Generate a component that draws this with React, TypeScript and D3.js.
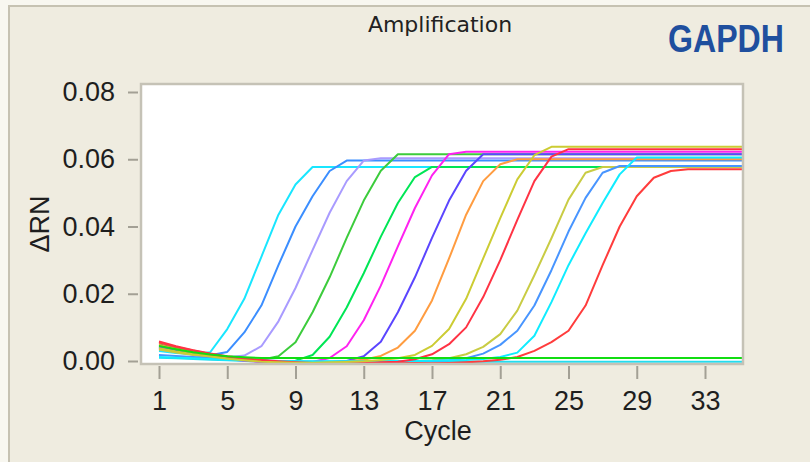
import { useEffect, useRef } from "react";
import * as d3 from "d3";

// cycles 1..36 (the plot clips a bit after 35)
const cycles = [1, 2, 3, 4, 5, 6, 7, 8, 9, 10, 11, 12, 13, 14, 15, 16, 17, 18, 19, 20, 21, 22, 23, 24, 25, 26, 27, 28, 29, 30, 31, 32, 33, 34, 35, 36];
const xTicks = [1, 5, 9, 13, 17, 21, 25, 29, 33];
const yTicks = [0, 0.02, 0.04, 0.06, 0.08];

// delta RN per cycle
const cyan1 = [0.003, 0.0024, 0.002, 0.0026, 0.0095, 0.0185, 0.031, 0.0435, 0.0525, 0.0577, 0.0577, 0.0577, 0.0577, 0.0577, 0.0577, 0.0577, 0.0577, 0.0577, 0.0577, 0.0577, 0.0577, 0.0577, 0.0577, 0.0577, 0.0577, 0.0577, 0.0577, 0.0577, 0.0577, 0.0577, 0.0577, 0.0577, 0.0577, 0.0577, 0.0577, 0.0577];
const blue1 = [0.004, 0.0031, 0.0023, 0.0017, 0.0027, 0.0085, 0.0165, 0.0285, 0.04, 0.049, 0.0565, 0.0596, 0.0596, 0.0596, 0.0596, 0.0596, 0.0596, 0.0596, 0.0596, 0.0596, 0.0596, 0.0596, 0.0596, 0.0596, 0.0596, 0.0596, 0.0596, 0.0596, 0.0596, 0.0596, 0.0596, 0.0596, 0.0596, 0.0596, 0.0596, 0.0596];
const lavender = [0.0045, 0.0034, 0.0025, 0.0018, 0.0011, 0.0016, 0.0044, 0.0118, 0.0217, 0.033, 0.0441, 0.0535, 0.0596, 0.0603, 0.0603, 0.0603, 0.0603, 0.0603, 0.0603, 0.0603, 0.0603, 0.0603, 0.0603, 0.0603, 0.0603, 0.0603, 0.0603, 0.0603, 0.0603, 0.0603, 0.0603, 0.0603, 0.0603, 0.0603, 0.0603, 0.0603];
const green1 = [0.005, 0.0038, 0.0027, 0.0018, 0.0011, 0.0005, 0.0004, 0.0014, 0.0056, 0.0145, 0.0249, 0.0366, 0.0477, 0.0566, 0.0615, 0.0615, 0.0615, 0.0615, 0.0615, 0.0615, 0.0615, 0.0615, 0.0615, 0.0615, 0.0615, 0.0615, 0.0615, 0.0615, 0.0615, 0.0615, 0.0615, 0.0615, 0.0615, 0.0615, 0.0615, 0.0615];
const green2 = [0.0042, 0.0031, 0.0022, 0.0014, 0.0008, 0.0003, 0.0, -0.0003, 0.0001, 0.0018, 0.0072, 0.0159, 0.0261, 0.037, 0.047, 0.0547, 0.0577, 0.0577, 0.0577, 0.0577, 0.0577, 0.0577, 0.0577, 0.0577, 0.0577, 0.0577, 0.0577, 0.0577, 0.0577, 0.0577, 0.0577, 0.0577, 0.0577, 0.0577, 0.0577, 0.0577];
const magenta = [0.0036, 0.0027, 0.0019, 0.0012, 0.0006, 0.0001, -0.0003, -0.0005, -0.0005, -0.0003, 0.0009, 0.0044, 0.0121, 0.0224, 0.0341, 0.0455, 0.0552, 0.0615, 0.0622, 0.0622, 0.0622, 0.0622, 0.0622, 0.0622, 0.0622, 0.0622, 0.0622, 0.0622, 0.0622, 0.0622, 0.0622, 0.0622, 0.0622, 0.0622, 0.0622, 0.0622];
const purple = [0.004, 0.003, 0.0021, 0.0013, 0.0007, 0.0002, -0.0002, -0.0004, -0.0005, -0.0005, -0.0004, 0.0, 0.0014, 0.0057, 0.0145, 0.0249, 0.0366, 0.0477, 0.0566, 0.0615, 0.0615, 0.0615, 0.0615, 0.0615, 0.0615, 0.0615, 0.0615, 0.0615, 0.0615, 0.0615, 0.0615, 0.0615, 0.0615, 0.0615, 0.0615, 0.0615];
const orange = [0.0048, 0.0036, 0.0026, 0.0017, 0.001, 0.0005, 0.0001, -0.0002, -0.0004, -0.0004, -0.0003, -0.0001, 0.0004, 0.0015, 0.004, 0.009, 0.018, 0.0305, 0.0435, 0.0535, 0.0585, 0.06, 0.06, 0.06, 0.06, 0.06, 0.06, 0.06, 0.06, 0.06, 0.06, 0.06, 0.06, 0.06, 0.06, 0.06];
const olive1 = [0.0038, 0.0028, 0.002, 0.0013, 0.0007, 0.0002, -0.0002, -0.0004, -0.0005, -0.0005, -0.0004, -0.0003, -0.0001, 0.0003, 0.0008, 0.0018, 0.0045, 0.0095, 0.0185, 0.0305, 0.0425, 0.054, 0.0612, 0.0637, 0.0637, 0.0637, 0.0637, 0.0637, 0.0637, 0.0637, 0.0637, 0.0637, 0.0637, 0.0637, 0.0637, 0.0637];
const red1 = [0.0058, 0.0044, 0.0032, 0.0022, 0.0014, 0.0008, 0.0003, -0.0001, -0.0004, -0.0006, -0.0007, -0.0007, -0.0006, -0.0004, -0.0002, 0.0005, 0.002, 0.005, 0.01, 0.019, 0.03, 0.042, 0.0535, 0.0608, 0.063, 0.063, 0.063, 0.063, 0.063, 0.063, 0.063, 0.063, 0.063, 0.063, 0.063, 0.063];
const olive2 = [0.0034, 0.0025, 0.0018, 0.0012, 0.0007, 0.0003, 0.0, -0.0002, -0.0003, -0.0004, -0.0004, -0.0004, -0.0003, -0.0002, -0.0001, 0.0, 0.0002, 0.0008, 0.002, 0.0042, 0.008, 0.015, 0.0255, 0.0365, 0.048, 0.056, 0.0577, 0.0577, 0.0577, 0.0577, 0.0577, 0.0577, 0.0577, 0.0577, 0.0577, 0.0577];
const blue2 = [0.0018, 0.0015, 0.0012, 0.0009, 0.0006, 0.0004, 0.0002, 0.0, -0.0001, -0.0002, -0.0002, -0.0002, -0.0002, -0.0001, -0.0001, 0.0, 0.0, 0.0002, 0.0008, 0.0022, 0.0048, 0.009, 0.0165, 0.027, 0.0385, 0.0485, 0.056, 0.058, 0.058, 0.058, 0.058, 0.058, 0.058, 0.058, 0.058, 0.058];
const cyan2 = [0.0012, 0.001, 0.0008, 0.0006, 0.0004, 0.0002, 0.0001, 0.0, -0.0001, -0.0001, -0.0001, -0.0001, -0.0001, 0.0, 0.0, 0.0, 0.0001, 0.0002, 0.0003, 0.0006, 0.0012, 0.0025, 0.0075, 0.0175, 0.0285, 0.038, 0.047, 0.0555, 0.0605, 0.0605, 0.0605, 0.0605, 0.0605, 0.0605, 0.0605, 0.0605];
const red2 = [0.0055, 0.0042, 0.0031, 0.0021, 0.0013, 0.0006, 0.0001, -0.0003, -0.0006, -0.0008, -0.0009, -0.0009, -0.0009, -0.0008, -0.0007, -0.0006, -0.0007, -0.0006, -0.0004, -0.0001, 0.0004, 0.0012, 0.003, 0.0056, 0.009, 0.0165, 0.0285, 0.04, 0.049, 0.0545, 0.0565, 0.057, 0.057, 0.057, 0.057, 0.057];
const ntcCyan = [0.001, 0.0008, 0.0006, 0.0004, 0.0002, 0.0, -0.0002, -0.0002, -0.0002, -0.0002, -0.0002, -0.0002, -0.0002, -0.0002, -0.0002, -0.0002, -0.0002, -0.0002, -0.0002, -0.0002, -0.0002, -0.0002, -0.0002, -0.0002, -0.0002, -0.0002, -0.0002, -0.0002, -0.0002, -0.0002, -0.0002, -0.0002, -0.0002, -0.0002, -0.0002, -0.0002];
const ntcGreen = [0.0045, 0.0035, 0.0026, 0.0019, 0.0014, 0.0011, 0.0009, 0.0009, 0.0009, 0.0009, 0.0009, 0.0009, 0.0009, 0.0009, 0.0009, 0.0009, 0.0009, 0.0009, 0.0009, 0.0009, 0.0009, 0.0009, 0.0009, 0.0009, 0.0009, 0.0009, 0.0009, 0.0009, 0.0009, 0.0009, 0.0009, 0.0009, 0.0009, 0.0009, 0.0009, 0.0009];

const series = [
  { values: ntcCyan, color: "#22ddf0" },
  { values: cyan1, color: "#19e6ff" },
  { values: blue1, color: "#3b8eff" },
  { values: lavender, color: "#a99bff" },
  { values: green1, color: "#3ccc3c" },
  { values: green2, color: "#00e655" },
  { values: magenta, color: "#ff22f0" },
  { values: purple, color: "#5b45ff" },
  { values: orange, color: "#ff9c40" },
  { values: olive2, color: "#c9cc44" },
  { values: blue2, color: "#4895ff" },
  { values: cyan2, color: "#10ecff" },
  { values: red2, color: "#ff3c3c" },
  { values: red1, color: "#ff3344" },
  { values: olive1, color: "#cccc33" },
  { values: ntcGreen, color: "#11dd11" },
];

export default function App() {
  const ref = useRef<SVGSVGElement>(null);

  useEffect(() => {
    const svg = d3.select(ref.current);
    svg.selectAll("*").remove();
    const W = 810;
    const H = 462;
    const frame = { left: 141, top: 84, right: 743, bottom: 364 };
    const font = "'Liberation Sans', Arial, sans-serif";

    const x = d3.scaleLinear().domain([1, 33]).range([159, 705]);
    const y = d3.scaleLinear().domain([0, 0.08]).range([361, 92]);

    // background + outer panel edge
    svg.append("rect").attr("width", W).attr("height", H).attr("fill", "#f8f7f0");
    svg.append("rect").attr("x", 8).attr("y", 5).attr("width", W - 8).attr("height", H - 5).attr("fill", "#efece0");
    svg.append("path").attr("d", `M9,${H} V6 H${W}`).attr("fill", "none").attr("stroke", "#c6c2b2").attr("stroke-width", 2);

    // plot area
    svg
      .append("rect")
      .attr("x", frame.left)
      .attr("y", frame.top)
      .attr("width", frame.right - frame.left)
      .attr("height", frame.bottom - frame.top)
      .attr("fill", "#ffffff");

    svg
      .append("defs")
      .append("clipPath")
      .attr("id", "plotclip")
      .append("rect")
      .attr("x", frame.left + 1)
      .attr("y", frame.top + 1)
      .attr("width", frame.right - frame.left - 2)
      .attr("height", frame.bottom - frame.top - 2);

    const line = d3
      .line<number>()
      .x((_, i) => x(cycles[i]))
      .y((d) => y(d));

    svg
      .append("g")
      .attr("clip-path", "url(#plotclip)")
      .selectAll("path")
      .data(series)
      .enter()
      .append("path")
      .attr("d", (s) => line(s.values))
      .attr("fill", "none")
      .attr("stroke", (s) => s.color)
      .attr("stroke-width", 2)
      .attr("stroke-linejoin", "round");

    // frame border
    svg
      .append("rect")
      .attr("x", frame.left)
      .attr("y", frame.top)
      .attr("width", frame.right - frame.left)
      .attr("height", frame.bottom - frame.top)
      .attr("fill", "none")
      .attr("stroke", "#c5c2b6")
      .attr("stroke-width", 2.5);

    // y axis
    const yAxis = svg
      .append("g")
      .attr("transform", "translate(138,0)")
      .call(
        d3
          .axisLeft(y)
          .tickValues(yTicks)
          .tickFormat(d3.format(".2f"))
          .tickSize(10)
          .tickSizeOuter(0)
          .tickPadding(13)
      );
    yAxis.select(".domain").remove();
    yAxis.selectAll("line").attr("stroke", "#a3a095").attr("stroke-width", 2);
    yAxis.selectAll("text").attr("font-family", font).attr("font-size", 27).attr("fill", "#1e1e1e");

    // x axis
    const xAxis = svg
      .append("g")
      .attr("transform", "translate(0,366)")
      .call(
        d3
          .axisBottom(x)
          .tickValues(xTicks)
          .tickFormat(d3.format("d"))
          .tickSize(13)
          .tickSizeOuter(0)
          .tickPadding(12)
      );
    xAxis.select(".domain").remove();
    xAxis.selectAll("line").attr("stroke", "#a3a095").attr("stroke-width", 2);
    xAxis.selectAll("text").attr("font-family", font).attr("font-size", 27).attr("fill", "#1e1e1e");

    // labels
    svg
      .append("text")
      .attr("x", 438)
      .attr("y", 440)
      .attr("text-anchor", "middle")
      .attr("font-family", font)
      .attr("font-size", 27)
      .attr("fill", "#1e1e1e")
      .text("Cycle");

    svg
      .append("text")
      .attr("transform", "translate(49,224) rotate(-90)")
      .attr("text-anchor", "middle")
      .attr("font-family", font)
      .attr("font-size", 27)
      .attr("fill", "#1e1e1e")
      .text("ΔRN");

    svg
      .append("text")
      .attr("x", 440)
      .attr("y", 32)
      .attr("text-anchor", "middle")
      .attr("font-family", "'DejaVu Sans', Verdana, sans-serif")
      .attr("font-size", 22)
      .attr("fill", "#222")
      .text("Amplification");

    svg
      .append("text")
      .attr("x", 668)
      .attr("y", 52)
      .attr("font-family", "'Liberation Sans Narrow', 'Liberation Sans', Arial, sans-serif")
      .attr("font-weight", "bold")
      .attr("font-size", 39)
      .attr("textLength", 116)
      .attr("lengthAdjust", "spacingAndGlyphs")
      .attr("fill", "#1f4f9e")
      .text("GAPDH");
  }, []);

  return (
    <svg
      ref={ref}
      width={810}
      height={462}
      style={{ position: "absolute", left: 0, top: 0, display: "block" }}
    />
  );
}
